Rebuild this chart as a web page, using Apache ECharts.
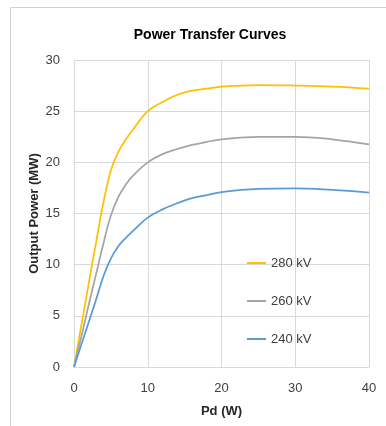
<!DOCTYPE html>
<html>
<head>
<meta charset="utf-8">
<script src="https://cdn.jsdelivr.net/npm/echarts@6/dist/echarts.min.js"></script>
<style>
  html, body { margin: 0; padding: 0; background: #fff; }
  #chart { width: 386px; height: 426px; }
</style>
</head>
<body>
<div id="chart"></div>
<script>
// Pd (W) sample points
const pd = [0, 1, 2, 3, 4, 5, 6, 7, 8, 10, 12, 14, 16, 18, 20, 25, 30, 35, 40];
// output power (MW) per voltage
const kv280 = [0, 4.1, 8.2, 12.2, 16.1, 19.2, 21.0, 22.2, 23.2, 25.0, 25.9, 26.6, 27.0, 27.2, 27.4, 27.55, 27.5, 27.4, 27.2];
const kv260 = [0, 3.0, 6.1, 9.1, 12.1, 14.8, 16.6, 17.8, 18.7, 20.0, 20.8, 21.3, 21.7, 22.0, 22.25, 22.5, 22.5, 22.25, 21.75];
const kv240 = [0, 2.2, 4.4, 6.6, 8.9, 10.6, 11.8, 12.6, 13.3, 14.6, 15.4, 16.0, 16.5, 16.8, 17.1, 17.4, 17.45, 17.3, 17.05];
const seriesNames = ["280 kV", "260 kV", "240 kV"];
const colors = ["#FFC000", "#A5A5A5", "#5B9BD5"];

const font = "Liberation Sans";

function pairs(ys) {
  return pd.map((x, i) => [x, ys[i]]);
}

const chart = echarts.init(document.getElementById("chart"));
chart.setOption({
  animation: false,
  color: colors,
  title: {
    text: "Power Transfer Curves",
    left: 205,
    textAlign: "center",
    top: 23,
    textStyle: { fontFamily: font, fontSize: 14, fontWeight: "bold", color: "#000" },
  },
  graphic: [
    {
      type: "rect",
      shape: { x: 10.5, y: 7.5, width: 400, height: 440 },
      style: { fill: "none", stroke: "#d0d0d0", lineWidth: 1 },
      silent: true,
    },
  ],
  legend: {
    orient: "vertical",
    left: 242,
    top: 251,
    icon: "rect",
    itemWidth: 19,
    itemHeight: 2,
    itemGap: 24,
    data: seriesNames,
    textStyle: { fontFamily: font, fontSize: 13, color: "#404040", lineHeight: 14 },
  },
  grid: { left: 74, right: 17, top: 60, bottom: 59 },
  xAxis: {
    type: "value",
    min: 0,
    max: 40,
    interval: 10,
    name: "Pd (W)",
    nameLocation: "middle",
    nameGap: 38,
    nameMoveOverlap: false,
    nameTextStyle: { fontFamily: font, fontSize: 13, fontWeight: "bold", color: "#262626" },
    axisLine: { lineStyle: { color: "#d9d9d9" } },
    axisTick: { show: false },
    axisLabel: { fontFamily: font, fontSize: 13, color: "#404040", margin: 15 },
    splitLine: { lineStyle: { color: "#d9d9d9" } },
  },
  yAxis: {
    type: "value",
    min: 0,
    max: 30,
    interval: 5,
    name: "Output Power (MW)",
    nameLocation: "middle",
    nameGap: 33,
    nameMoveOverlap: false,
    nameTextStyle: { fontFamily: font, fontSize: 13, fontWeight: "bold", color: "#262626" },
    axisLine: { show: true, lineStyle: { color: "#d9d9d9" } },
    axisTick: { show: false },
    axisLabel: { fontFamily: font, fontSize: 13, color: "#404040", margin: 14 },
    splitLine: { lineStyle: { color: "#d9d9d9" } },
  },
  series: [kv280, kv260, kv240].map((ys, i) => ({
    name: seriesNames[i],
    type: "line",
    smooth: 0.4,
    symbol: "none",
    lineStyle: { width: 1.75, color: colors[i] },
    data: pairs(ys),
  })),
});
</script>
</body>
</html>
